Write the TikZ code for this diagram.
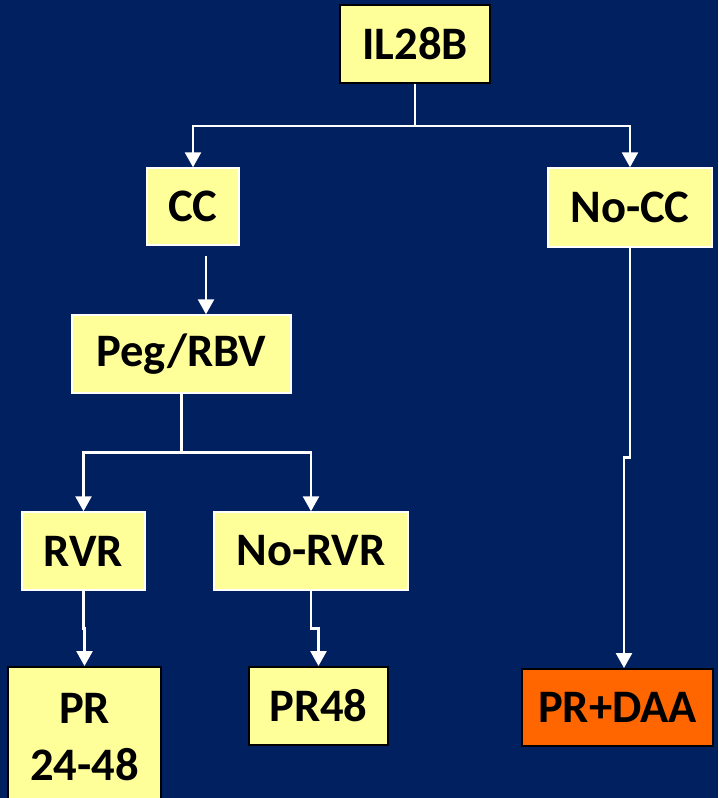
\documentclass[tikz,border=0pt]{standalone}
\usepackage{fontspec}
\setmainfont{Carlito}
\usepackage{tikz}
\usetikzlibrary{arrows.meta, calc}
\definecolor{navybg}{RGB}{0, 32, 96}
\definecolor{paleyellow}{RGB}{255, 255, 153}
\definecolor{daaorange}{RGB}{255, 102, 0}

\begin{document}
\begin{tikzpicture}[
    x=0.02cm, y=-0.02cm,
    font=\fontsize{26.5}{32}\selectfont\bfseries,
    box/.style={rectangle, draw=white, line width=0.8pt, fill=paleyellow, inner sep=0pt, minimum height=1.56cm, align=center},
    endbox/.style={box, draw=black, line width=1.1pt},
    daabox/.style={endbox, fill=daaorange},
    arrow/.style={draw=white, line width=1.6pt, -{Triangle[width=9pt, length=8.5pt]}}
]

\useasboundingbox (0,0) rectangle (718,798);
\fill[navybg] (0,0) rectangle (718,798);

\node[endbox, minimum width=3.0cm] (il28b) at (415,44) {IL28B};
\node[box, minimum width=1.84cm, minimum height=1.54cm] (cc) at (193,206.5) {CC};
\node[box, minimum width=3.28cm, minimum height=1.58cm] (nocc) at (630,207.5) {No-CC};
\node[box, minimum width=4.38cm] (pegrbv) at (181.5,354) {Peg/RBV};
\node[box, minimum width=2.46cm] (rvr) at (83.5,551) {RVR};
\node[box, minimum width=3.88cm] (norvr) at (311,551) {No-RVR};
\node[endbox, minimum width=3.06cm, minimum height=2.8cm] (pr2448) at (84.5,737) {PR\\24-48};
\node[endbox, minimum width=2.78cm] (pr48) at (318.5,706) {PR48};
\node[daabox, minimum width=3.82cm, minimum height=1.54cm] (prdaa) at (617.5,707.5) {PR+DAA};

\coordinate (ccout) at ($(cc.south)+(13,10)$);
\coordinate (daain) at ($(prdaa.north)+(6.5,0)$);

\draw[arrow] (il28b.south) -- ++(0,42) -| (cc.north);
\draw[arrow] (il28b.south) -- ++(0,42) -| (nocc.north);
\draw[arrow] (ccout) -- (ccout |- pegrbv.north);
\draw[arrow] (pegrbv.south) -- ++(0,59) -| (rvr.north);
\draw[arrow] (pegrbv.south) -- ++(0,59) -| (norvr.north);
\draw[arrow] (rvr.south) -- ++(0,38) -| (pr2448.north);
\draw[arrow] (norvr.south) -- ++(0,38) -| (pr48.north);
\draw[arrow] (nocc.south) -- ++(0,210) -| (daain);

\end{tikzpicture}
\end{document}
